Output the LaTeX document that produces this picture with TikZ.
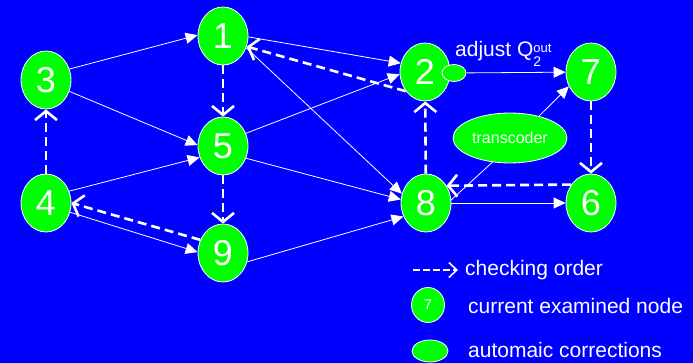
\documentclass[tikz,border=0pt]{standalone}
\usepackage{fontspec}
\setmainfont{Liberation Sans}
\usetikzlibrary{arrows.meta,shapes.geometric}

\definecolor{bgblue}{RGB}{0,0,255}
\definecolor{nodegreen}{RGB}{0,255,0}

\tikzset{
  vertex/.style={ellipse, draw=white, line width=0.8pt, fill=nodegreen,
    minimum width=50pt, minimum height=58pt, inner sep=0pt, text=white,
    font=\fontsize{36}{36}\selectfont},
  blob/.style={ellipse, draw=white, line width=0.8pt, fill=nodegreen, inner sep=0pt},
  link/.style={draw=white, line width=0.8pt, -{Triangle[length=12pt,width=11pt]}},
  plainlink/.style={draw=white, line width=0.8pt},
  order/.style={draw=white, line width=2.6pt, dash pattern=on 9pt off 5pt,
    -{Straight Barb[length=9pt,width=22pt]}},
  legendorder/.style={draw=white, line width=1.6pt, dash pattern=on 7pt off 3pt,
    -{Straight Barb[length=8pt,width=15pt]}},
  caption/.style={text=white, inner sep=0pt, font=\fontsize{21}{21}\selectfont}
}

\begin{document}
\begin{tikzpicture}[x=1pt,y=-1pt]
  \fill[bgblue] (0,0) rectangle (693,363);
  \useasboundingbox (0,0) rectangle (693,363);

  % graph nodes
  \node[vertex] (n1) at (223,36)  {1};
  \node[vertex] (n3) at (46,80)   {3};
  \node[vertex] (n5) at (223,146) {5};
  \node[vertex] (n4) at (46,203)  {4};
  \node[vertex] (n9) at (223,253) {9};
  \node[vertex] (n2) at (425,72)  {2};
  \node[vertex] (n7) at (591,72)  {7};
  \node[vertex] (n8) at (426,203) {8};
  \node[vertex] (n6) at (591,203) {6};

  % correction attached to node 2 and the transcoder
  \node[blob, minimum width=24pt, minimum height=17pt] (corr) at (454,73) {};
  \node[blob, minimum width=114pt, minimum height=50pt, text=white,
        font=\fontsize{16}{16}\selectfont] (trans) at (510,138) {transcoder};

  \node[text=white, inner sep=0pt, anchor=base west, font=\fontsize{21}{21}\selectfont]
    (adj) at (455,57)
    {adjust Q\makebox[0pt][l]{\raisebox{4pt}{\fontsize{13}{13}\selectfont out}}\raisebox{-10pt}{\fontsize{14}{14}\selectfont 2}};

  % directed edges
  \draw[link] (n3.25)  -- (n1.178);
  \draw[link] (n3.-26) -- (n5.178);
  \draw[link] (n4.27)  -- (n5.206);
  \draw[link] (n4.-21) -- (n9.178);
  \draw[link] (n1.-2)  -- (n2.160);
  \draw[link] (n1.-27) -- (n8.159);
  \draw[link] (n5.29)  -- (n2.185);
  \draw[link] (n5.-28) -- (n8.172);
  \draw[link] (n9.-20) -- (n8.211);
  \draw[link] (n8) -- (n6);
  \draw[link] (corr) -- (n7);
  \draw[link] (trans.37) -- (n7.213);
  \draw[plainlink] (n8.7) -- (trans.234);

  % checking order
  \draw[order] (n7) -- (n6);
  \draw[order] (n6.137) -- (n8.40);
  \draw[order] (n8) -- (n2);
  \draw[order] (n2.225) -- (n1.-24);
  \draw[order] (n1) -- (n5);
  \draw[order] (n5) -- (n9);
  \draw[order] (n9.150) -- (n4.0);
  \draw[order] (n4) -- (n3);

  % legend
  \coordinate (la) at (413,270);
  \coordinate (lb) at (458,270);
  \draw[legendorder] (la) -- (lb);
  \node[caption, anchor=base west] (t1) at (465,276) {checking order};

  \node[blob, minimum width=33pt, minimum height=35pt, text=white,
        font=\fontsize{14}{14}\selectfont] (l7) at (428,305) {7};
  \node[caption, anchor=base west] (t2) at (468,313) {current examined node};

  \node[blob, minimum width=36pt, minimum height=22pt] (lc) at (430,351) {};
  \node[caption, anchor=base west] (t3) at (468,357) {automaic corrections};
\end{tikzpicture}
\end{document}
